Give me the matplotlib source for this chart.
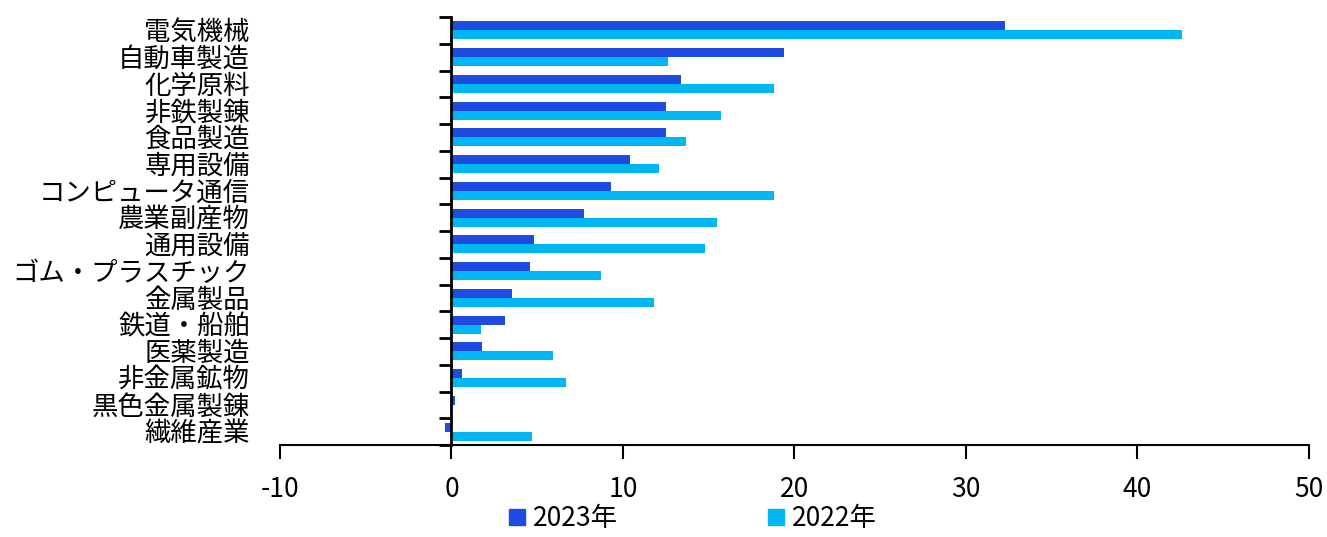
import matplotlib
matplotlib.use("Agg")
import matplotlib.pyplot as plt
import matplotlib.transforms as mtransforms
import numpy as np
from matplotlib.patches import Patch

plt.rcParams['font.family'] = ['Noto Sans CJK JP', 'DejaVu Sans']

categories = ["電気機械", "自動車製造", "化学原料", "非鉄製錬", "食品製造", "専用設備",
              "コンピュータ通信", "農業副産物", "通用設備", "ゴム・プラスチック",
              "金属製品", "鉄道・船舶", "医薬製造", "非金属鉱物", "黒色金属製錬", "繊維産業"]
values_2023 = [32.3, 19.4, 13.4, 12.5, 12.5, 10.4, 9.3, 7.7, 4.8, 4.6, 3.5, 3.1, 1.8, 0.6, 0.2, -0.4]
values_2022 = [42.6, 12.6, 18.8, 15.7, 13.7, 12.1, 18.8, 15.5, 14.8, 8.7, 11.8, 1.7, 5.9, 6.7, -0.1, 4.7]
series_labels = ["2023年", "2022年"]
x_ticks = [-10, 0, 10, 20, 30, 40, 50]

c2023 = "#1F4BE0"
c2022 = "#00B7F4"
FS = 19

fig = plt.figure(figsize=(13.27, 5.37), dpi=100)
ax = fig.add_axes([0.211, 0.1713, 0.9864 - 0.211, 0.9683 - 0.1713])

y = np.arange(len(categories))
h = 0.335
ax.barh(y - h / 2, values_2023, height=h, color=c2023)
ax.barh(y + h / 2, values_2022, height=h, color=c2022)

ax.set_xlim(-10, 50)
ax.set_ylim(len(categories) - 0.5, -0.5)
ax.set_xticks(x_ticks)
ax.set_xticklabels([str(t) for t in x_ticks], fontsize=FS)
ax.tick_params(axis='x', length=10, width=1.5, pad=12, color='black')

for s in ['top', 'right']:
    ax.spines[s].set_visible(False)
ax.spines['bottom'].set_linewidth(1.5)
ax.spines['left'].set_position(('data', 0))
ax.spines['left'].set_linewidth(2)

# category boundary ticks on the zero line, names at the far left
ax.set_yticks(np.arange(-0.5, len(categories)))
ax.set_yticklabels([])
ax.tick_params(axis='y', length=9, width=2, direction='out')
trans = mtransforms.blended_transform_factory(ax.transAxes, ax.transData)
offset = mtransforms.ScaledTranslation(-30 / 100, 0, fig.dpi_scale_trans)
for i, name in enumerate(categories):
    ax.text(0, i + 0.08, name, transform=trans + offset, ha='right', va='center', fontsize=FS)

handles = [Patch(color=c2023), Patch(color=c2022)]
fig.legend(handles, series_labels, loc='center', bbox_to_anchor=(0.522, 0.034), ncol=2,
           frameon=False, fontsize=FS, handlelength=0.6, handleheight=0.6,
           handletextpad=0.3, columnspacing=5.7, borderpad=0.1)

fig.savefig("out.png", dpi=100)
